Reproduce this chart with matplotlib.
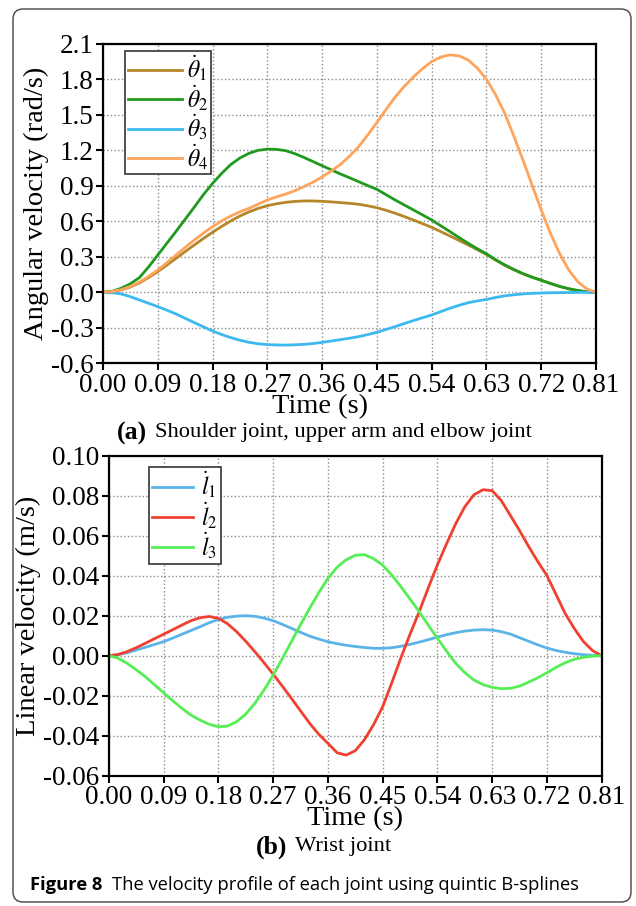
import matplotlib
matplotlib.use("Agg")
import matplotlib.pyplot as plt
from matplotlib.patches import FancyBboxPatch
from matplotlib.transforms import IdentityTransform

plt.rcParams['font.family'] = ['Liberation Serif', 'DejaVu Serif']
plt.rcParams['mathtext.fontset'] = 'stix'

# time samples (s)
time = [0.000, 0.015, 0.030, 0.045, 0.060, 0.075, 0.090, 0.105, 0.120, 0.135,
        0.150, 0.165, 0.180, 0.195, 0.210, 0.225, 0.240, 0.255, 0.270, 0.285,
        0.300, 0.315, 0.330, 0.345, 0.360, 0.375, 0.390, 0.405, 0.420, 0.435,
        0.450, 0.465, 0.480, 0.495, 0.510, 0.525, 0.540, 0.555, 0.570, 0.585,
        0.600, 0.615, 0.630, 0.645, 0.660, 0.675, 0.690, 0.705, 0.720, 0.735,
        0.750, 0.765, 0.780, 0.795, 0.810]

# (a) angular velocities (rad/s)
theta1 = [0.0, 0.005, 0.02, 0.045, 0.08, 0.125, 0.175, 0.23, 0.287, 0.344,
          0.40, 0.455, 0.507, 0.557, 0.603, 0.645, 0.68, 0.709, 0.732, 0.748,
          0.76, 0.768, 0.772, 0.772, 0.769, 0.764, 0.758, 0.752, 0.744, 0.731,
          0.715, 0.693, 0.668, 0.64, 0.611, 0.58, 0.549, 0.513, 0.476, 0.438,
          0.40, 0.36, 0.32, 0.272, 0.228, 0.19, 0.156, 0.127, 0.102, 0.075,
          0.05, 0.03, 0.015, 0.004, 0.0]
theta2 = [0.0, 0.008, 0.034, 0.072, 0.125, 0.215, 0.315, 0.415, 0.515, 0.617,
          0.72, 0.825, 0.92, 1.005, 1.08, 1.135, 1.175, 1.2, 1.21, 1.208,
          1.197, 1.172, 1.14, 1.105, 1.07, 1.035, 1.0, 0.968, 0.935, 0.902,
          0.87, 0.825, 0.78, 0.738, 0.696, 0.654, 0.611, 0.562, 0.513, 0.463,
          0.414, 0.368, 0.325, 0.276, 0.232, 0.193, 0.158, 0.128, 0.102, 0.075,
          0.05, 0.03, 0.015, 0.004, 0.0]
theta3 = [0.0, -0.004, -0.014, -0.037, -0.065, -0.093, -0.121, -0.151, -0.183, -0.22,
          -0.256, -0.292, -0.327, -0.357, -0.383, -0.405, -0.423, -0.435, -0.442, -0.445,
          -0.446, -0.444, -0.44, -0.433, -0.423, -0.412, -0.40, -0.388, -0.375, -0.357,
          -0.338, -0.314, -0.29, -0.264, -0.239, -0.215, -0.192, -0.163, -0.135, -0.11,
          -0.088, -0.073, -0.06, -0.044, -0.03, -0.021, -0.014, -0.009, -0.006, -0.004,
          -0.003, -0.002, -0.001, 0.0, 0.0]
theta4 = [0.0, 0.006, 0.022, 0.05, 0.087, 0.135, 0.189, 0.25, 0.315, 0.38,
          0.442, 0.50, 0.555, 0.603, 0.645, 0.68, 0.71, 0.745, 0.78, 0.806,
          0.83, 0.858, 0.893, 0.93, 0.975, 1.025, 1.08, 1.15, 1.23, 1.33,
          1.434, 1.545, 1.65, 1.74, 1.82, 1.89, 1.95, 1.988, 2.006, 1.998,
          1.963, 1.895, 1.80, 1.67, 1.513, 1.32, 1.118, 0.905, 0.696, 0.50,
          0.33, 0.19, 0.09, 0.028, 0.0]

# (b) linear velocities (m/s)
l1 = [0.0, 0.0004, 0.0015, 0.0028, 0.0042, 0.0056, 0.007, 0.0088, 0.0107, 0.0126,
      0.0145, 0.0165, 0.0181, 0.0192, 0.0198, 0.020, 0.0197, 0.0188, 0.0175, 0.0157,
      0.0137, 0.0117, 0.0098, 0.0083, 0.007, 0.006, 0.0052, 0.0046, 0.0041, 0.0037,
      0.0037, 0.004, 0.0047, 0.0057, 0.0068, 0.008, 0.0093, 0.0105, 0.0115, 0.0123,
      0.0128, 0.013, 0.0128, 0.012, 0.0108, 0.009, 0.0072, 0.0054, 0.0038, 0.0026,
      0.0017, 0.001, 0.0005, 0.0002, 0.0]
l2 = [0.0, 0.0006, 0.002, 0.004, 0.0062, 0.0085, 0.0107, 0.013, 0.0153, 0.0175,
      0.019, 0.0196, 0.0187, 0.016, 0.012, 0.0072, 0.002, -0.0035, -0.0092, -0.0152,
      -0.0213, -0.0276, -0.0338, -0.0393, -0.0438, -0.0485, -0.0497, -0.0475, -0.042, -0.0345,
      -0.0255, -0.0135, -0.001, 0.0108, 0.022, 0.034, 0.0455, 0.056, 0.066, 0.0745,
      0.0805, 0.083, 0.0825, 0.0775, 0.070, 0.0625, 0.0545, 0.047, 0.040, 0.0305,
      0.021, 0.0135, 0.007, 0.0025, 0.0]
l3 = [0.0, -0.0012, -0.0038, -0.007, -0.0105, -0.0145, -0.0185, -0.0225, -0.0263, -0.0297,
      -0.0322, -0.0343, -0.0355, -0.0352, -0.033, -0.0292, -0.0238, -0.0172, -0.0097, -0.0015,
      0.007, 0.0155, 0.0237, 0.0315, 0.0387, 0.0442, 0.048, 0.0502, 0.0505, 0.0485,
      0.0453, 0.0403, 0.0345, 0.0283, 0.022, 0.0152, 0.0087, 0.0022, -0.0038, -0.0085,
      -0.0122, -0.0145, -0.0158, -0.0165, -0.0163, -0.0152, -0.0132, -0.011, -0.0085, -0.0058,
      -0.0035, -0.0018, -0.0008, -0.0002, 0.0]

xticks = [0.00, 0.09, 0.18, 0.27, 0.36, 0.45, 0.54, 0.63, 0.72, 0.81]
yticks_a = [-0.6, -0.3, 0.0, 0.3, 0.6, 0.9, 1.2, 1.5, 1.8, 2.1]
yticks_b = [-0.06, -0.04, -0.02, 0.00, 0.02, 0.04, 0.06, 0.08, 0.10]

W, H = 636, 906
serif = ['Liberation Serif', 'DejaVu Serif']
fig = plt.figure(figsize=(W / 100, H / 100), dpi=100)


def style_axes(ax, yticks, yfmt):
    ax.set_xlim(0, 0.81)
    ax.set_ylim(yticks[0], yticks[-1])
    ax.set_xticks(xticks)
    ax.set_xticklabels(["%.2f" % v for v in xticks])
    ax.set_yticks(yticks)
    ax.set_yticklabels([yfmt % v for v in yticks])
    ax.grid(True, linestyle=':', color='#8c8c8c', linewidth=1.0)
    ax.set_axisbelow(True)
    for s in ax.spines.values():
        s.set_linewidth(1.6)
    ax.tick_params(direction='out', length=5, width=1.5, labelsize=19.5, pad=2)
    ax.set_xlabel('Time (s)', fontsize=20.5)


def add_legend(ax, anchor, hlen, tpad):
    leg = ax.legend(loc='upper left', bbox_to_anchor=anchor, fontsize=17,
                    frameon=True, fancybox=False, framealpha=1, edgecolor='#333333',
                    handlelength=hlen, handletextpad=tpad, labelspacing=0.0,
                    borderpad=0.12, borderaxespad=0)
    leg.get_frame().set_linewidth(1.2)


ax1 = fig.add_axes([103 / W, 1 - 363.3 / H, 493 / W, 319.5 / H])
ax1.plot(time, theta1, color='#b5862a', lw=2, label=r'$\dot{\theta}_1$')
ax1.plot(time, theta2, color='#1f9a1f', lw=2, label=r'$\dot{\theta}_2$')
ax1.plot(time, theta3, color='#3cb9ef', lw=2, label=r'$\dot{\theta}_3$')
ax1.plot(time, theta4, color='#ffa45c', lw=2, label=r'$\dot{\theta}_4$')
style_axes(ax1, yticks_a, "%.1f")
ax1.xaxis.set_label_coords(0.44, -0.095)
ax1.set_ylabel('Angular velocity (rad/s)', fontsize=20.5, labelpad=1)
add_legend(ax1, (0.045, 0.977), 2.3, 0.2)

ax2 = fig.add_axes([108.8 / W, 1 - 775.7 / H, 493 / W, 320 / H])
ax2.plot(time, l1, color='#5ab4e8', lw=2, label=r'$\dot{l}_1$')
ax2.plot(time, l2, color='#f0402f', lw=2, label=r'$\dot{l}_2$')
ax2.plot(time, l3, color='#55ee55', lw=2, label=r'$\dot{l}_3$')
style_axes(ax2, yticks_b, "%.2f")
ax2.xaxis.set_label_coords(0.5, -0.095)
ax2.set_ylabel('Linear velocity (m/s)', fontsize=20.5, labelpad=1)
add_legend(ax2, (0.0815, 0.965), 1.75, 0.35)

# sub captions
fig.text(117 / W, 1 - 433 / H, '(a)', fontsize=18.5, fontweight='bold',
         family=serif, va='center', ha='left')
fig.text(155 / W, 1 - 433 / H, 'Shoulder joint, upper arm and elbow joint',
         fontsize=16.2, family=serif, va='center', ha='left')
fig.text(256 / W, 1 - 847 / H, '(b)', fontsize=18.5, fontweight='bold',
         family=serif, va='center', ha='left')
fig.text(295 / W, 1 - 847 / H, 'Wrist joint', fontsize=16.2, family=serif,
         va='center', ha='left')

# figure caption
fig.text(30 / W, 1 - 885 / H, 'Figure 8', fontsize=13.2, fontweight='bold',
         family=['Open Sans', 'DejaVu Sans'], va='center', ha='left')
fig.text(112 / W, 1 - 885 / H, 'The velocity profile of each joint using quintic B-splines',
         fontsize=13.2, family=['Open Sans', 'DejaVu Sans'], va='center', ha='left')

# rounded frame around the figure
frame = FancyBboxPatch((13, 4), 618, 893, boxstyle='round,pad=0,rounding_size=10',
                       transform=IdentityTransform(), facecolor='none',
                       edgecolor='#444444', linewidth=1.0)
fig.patches.append(frame)

fig.savefig('out.png', dpi=100)
